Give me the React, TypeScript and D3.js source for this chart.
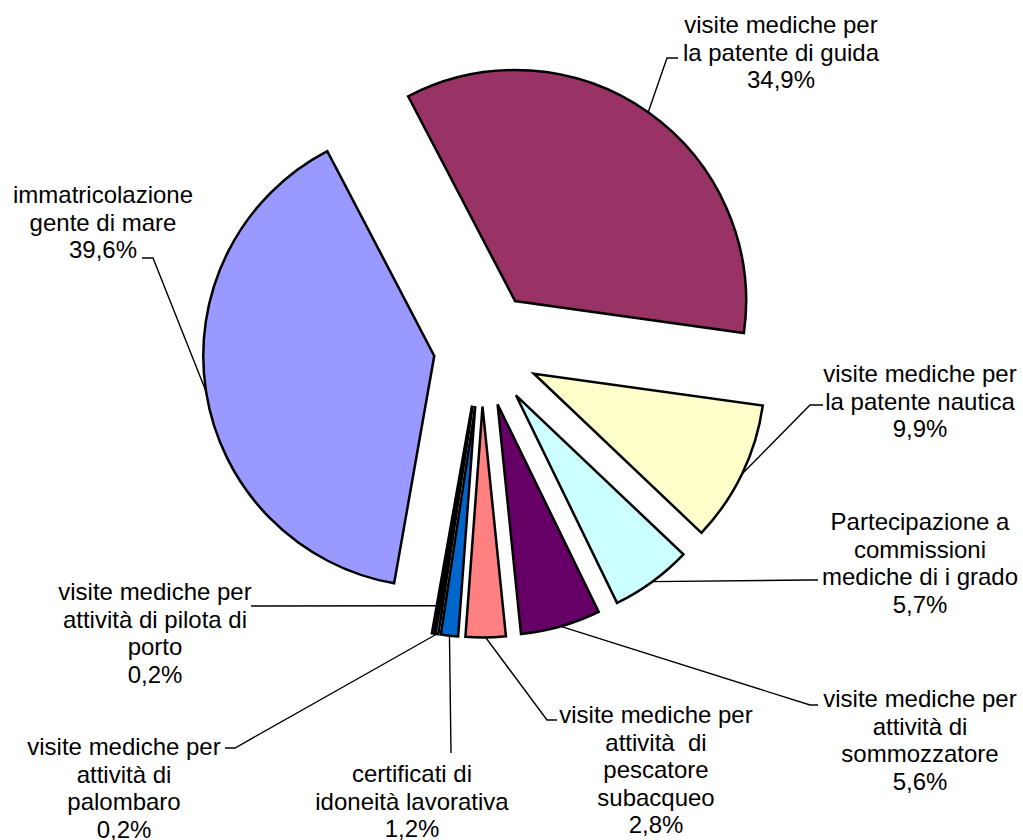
import React from "react";
import * as d3 from "d3";

// ---- data (clockwise order, starting with the first slice) ----
const categories = [
  "immatricolazione gente di mare",
  "visite mediche per la patente di guida",
  "visite mediche per la patente nautica",
  "Partecipazione a commissioni mediche di i grado",
  "visite mediche per attività di sommozzatore",
  "visite mediche per attività  di pescatore subacqueo",
  "certificati di idoneità lavorativa",
  "visite mediche per attività di palombaro",
  "visite mediche per attività di pilota di porto",
];
const values = [39.6, 34.9, 9.9, 5.7, 5.6, 2.8, 1.2, 0.2, 0.2];
const percentLabels = ["39,6%", "34,9%", "9,9%", "5,7%", "5,6%", "2,8%", "1,2%", "0,2%", "0,2%"];
const labelLines = [
  ["immatricolazione", "gente di mare"],
  ["visite mediche per", "la patente di guida"],
  ["visite mediche per", "la patente nautica"],
  ["Partecipazione a", "commissioni", "mediche di i grado"],
  ["visite mediche per", "attività di", "sommozzatore"],
  ["visite mediche per", "attività  di", "pescatore", "subacqueo"],
  ["certificati di", "idoneità lavorativa"],
  ["visite mediche per", "attività di", "palombaro"],
  ["visite mediche per", "attività di pilota di", "porto"],
];

// ---- styles / layout ----
const colors = ["#9999FF", "#993366", "#FFFFCC", "#CCFFFF", "#660066", "#FF8080", "#0066CC", "#CCCCFF", "#000080"];
const explode = [48, 58, 58, 58, 58, 58, 58, 58, 58];
const labelLayout = [
  { x: 103, y: 203, elbow: [153, 258], end: [142, 258], anchorR: 231 },
  { x: 781, y: 33, elbow: [667, 58], end: [678, 58], anchorR: 231 },
  { x: 920, y: 382, elbow: [810, 405], end: [823, 405], anchorR: 231 },
  { x: 920, y: 530, elbow: [808, 580], end: [818, 580], anchorR: 231 },
  { x: 920, y: 707, elbow: [810, 705], end: [818, 705], anchorR: 231 },
  { x: 656, y: 723, elbow: [547, 720], end: [557, 720], anchorR: 231 },
  { x: 412, y: 782, elbow: [451, 753], end: [451, 753], anchorR: 231 },
  { x: 124, y: 755, elbow: [235, 748], end: [225, 748], anchorR: 231 },
  { x: 155, y: 600, elbow: [251, 606], end: [251, 606], anchorR: 203 },
];

const W = 1023;
const H = 840;
const CX = 481.7;
const CY = 348.5;
const R = 231;
const START_DEG = 190;
const LINE_H = 27.5;
const FONT = "'Liberation Sans', Arial, Helvetica, sans-serif";

export default function App() {
  const pie = d3
    .pie<number>()
    .sort(null)
    .value((d) => d)
    .startAngle((START_DEG * Math.PI) / 180)
    .endAngle((START_DEG * Math.PI) / 180 + 2 * Math.PI);
  const arcs = pie(values);
  const arcGen = d3.arc<d3.PieArcDatum<number>>().innerRadius(0).outerRadius(R);

  return (
    <svg
      width={W}
      height={H}
      viewBox={`0 0 ${W} ${H}`}
      style={{ position: "absolute", left: 0, top: 0, background: "#fff" }}
    >
      <rect width={W} height={H} fill="#fff" />
      {arcs.map((a, i) => {
        const mid = (a.startAngle + a.endAngle) / 2;
        const dx = Math.sin(mid) * explode[i];
        const dy = -Math.cos(mid) * explode[i];
        return (
          <path
            key={categories[i]}
            d={arcGen(a) || ""}
            transform={`translate(${CX + dx},${CY + dy})`}
            fill={colors[i]}
            stroke="#000"
            strokeWidth={2.5}
            strokeLinejoin="miter"
          />
        );
      })}
      {arcs.map((a, i) => {
        const mid = (a.startAngle + a.endAngle) / 2;
        const lay = labelLayout[i];
        const ax = CX + Math.sin(mid) * (explode[i] + lay.anchorR);
        const ay = CY - Math.cos(mid) * (explode[i] + lay.anchorR);
        const pts: [number, number][] = [[ax, ay], lay.elbow as [number, number], lay.end as [number, number]];
        return (
          <path
            key={"l" + i}
            d={d3.line()(pts) || ""}
            fill="none"
            stroke="#000"
            strokeWidth={1.4}
          />
        );
      })}
      {labelLines.map((lines, i) => {
        const lay = labelLayout[i];
        const all = [...lines, percentLabels[i]];
        return (
          <text
            key={"t" + i}
            x={lay.x}
            y={lay.y}
            textAnchor="middle"
            fontFamily={FONT}
            fontSize={24}
            fill="#000"
            style={{ whiteSpace: "pre" }}
          >
            {all.map((s, j) => (
              <tspan key={j} x={lay.x} y={lay.y + j * LINE_H}>
                {s}
              </tspan>
            ))}
          </text>
        );
      })}
    </svg>
  );
}
